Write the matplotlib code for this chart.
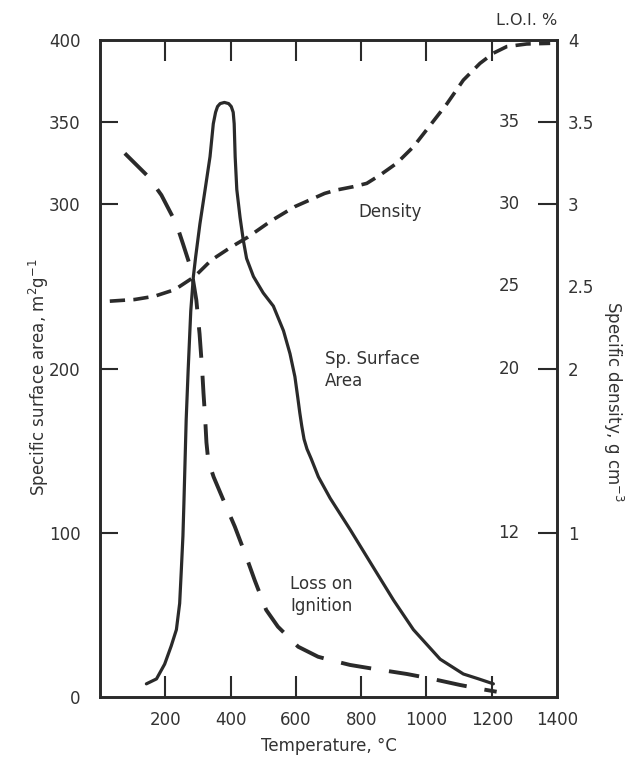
import numpy as np
import matplotlib
matplotlib.use("Agg")
import matplotlib.pyplot as plt
import matplotlib.transforms as mtransforms

plt.rcParams["font.family"] = ["DejaVu Sans"]
plt.rcParams["lines.scale_dashes"] = False

INK = "#2a2a2a"
TXT = "#333333"
FS = 12

# Specific surface area (m2/g) vs temperature (C)
ssa_t = [142, 173, 198, 218, 234, 244, 249, 254, 257, 264, 270, 278, 286, 293, 306,
         322, 337, 347, 354, 360, 368, 381, 394, 402, 408, 411, 414, 419, 429, 439,
         449, 470, 500, 531, 562, 582, 597, 606, 612, 618, 625, 634, 647, 669, 705,
         766, 837, 899, 960, 1042, 1113, 1160, 1205]
ssa_v = [8, 11, 20, 31, 41, 57, 77, 98, 118, 169, 199, 235, 256, 268, 288,
         309, 329, 349, 356, 359.5, 361.3, 362, 361.3, 359.5, 356, 349, 329, 309, 292,
         278, 267, 256, 246, 238, 223, 209, 195, 182, 173, 165, 157, 151, 145, 134, 121,
         102, 79, 59, 41, 23, 14, 11, 8]

# Specific density (g/cm3) vs temperature
dens_t = [30, 106, 167, 229, 290, 341, 402, 453, 525, 596, 688, 725, 776, 817, 858,
          909, 960, 1011, 1062, 1113, 1164, 1205, 1246, 1307, 1379]
dens_v = [2.41, 2.42, 2.44, 2.48, 2.56, 2.66, 2.74, 2.80, 2.90, 2.985, 3.066, 3.087,
          3.107, 3.127, 3.178, 3.25, 3.35, 3.48, 3.61, 3.756, 3.858, 3.92, 3.96,
          3.976, 3.98]

# Loss on ignition, in positions of the right-hand scale
loi_t = [76, 147, 188, 234, 254, 280, 295, 305, 313, 317, 322, 326, 330, 338, 348,
         382, 413, 448, 474, 509, 545, 607, 668, 705, 766, 827, 940, 1011, 1103, 1174,
         1215]
loi_v = [3.31, 3.17, 3.056, 2.88, 2.76, 2.60, 2.417, 2.21, 1.99, 1.85, 1.70, 1.55,
         1.47, 1.40, 1.34, 1.18, 1.037, 0.854, 0.71, 0.53, 0.428, 0.306, 0.245, 0.225,
         0.195, 0.175, 0.14, 0.113, 0.073, 0.046, 0.032]

x_ticks = [200, 400, 600, 800, 1000, 1200, 1400]
left_ticks = [0, 100, 200, 300, 350, 400]
dens_ticks = [1, 2, 2.5, 3, 3.5, 4]
dens_labels = ["1", "2", "2.5", "3", "3.5", "4"]
loi_labels = ["12", "20", "25", "30", "35"]
loi_pos = [1, 2, 2.5, 3, 3.5]

fig = plt.figure(figsize=(6.29, 7.58), dpi=100)
ax = fig.add_axes([0.159, 0.0805, 0.7266, 0.8667])
ax2 = ax.twinx()

ax.plot(ssa_t, ssa_v, color=INK, lw=2.3, solid_capstyle="round",
        solid_joinstyle="round")
ax2.plot(dens_t, dens_v, color=INK, lw=2.6, dashes=(11, 6))
ax2.plot(loi_t, loi_v, color=INK, lw=2.8, dashes=(22, 13))

ax.set_xlim(0, 1400)
ax.set_ylim(0, 400)
ax2.set_ylim(0, 4)

for a in (ax, ax2):
    for s in a.spines.values():
        s.set_linewidth(1.9)
        s.set_color(INK)

ax.set_xticks(x_ticks)
ax.set_xticklabels([str(v) for v in x_ticks])
ax.set_yticks(left_ticks)
ax.set_yticklabels([str(v) for v in left_ticks])
ax.tick_params(axis="x", direction="in", length=15, width=1.5, color=INK,
               top=True, labelsize=FS, labelcolor=TXT, pad=10)
ax.tick_params(axis="y", direction="in", length=13, width=1.5, color=INK,
               labelsize=FS, labelcolor=TXT, pad=14)
# no marks at the box corners
for t in ax.xaxis.get_major_ticks()[-1:]:
    t.tick1line.set_visible(False)
    t.tick2line.set_visible(False)
yt = ax.yaxis.get_major_ticks()
for i in (0, 5):
    yt[i].tick1line.set_visible(False)

ax2.set_yticks(dens_ticks)
ax2.set_yticklabels(dens_labels)
ax2.tick_params(axis="y", direction="in", length=14, width=1.5, color=INK,
                labelsize=FS, labelcolor=TXT, pad=8)
dt = ax2.yaxis.get_major_ticks()
for i in (2, 5):
    dt[i].tick2line.set_visible(False)

trans = mtransforms.blended_transform_factory(ax2.transAxes, ax2.transData)
for lab, p in zip(loi_labels, loi_pos):
    ax2.text(0.918, p, lab, transform=trans, ha="right", va="center",
             fontsize=FS, color=TXT)

ax.text(1.0, 1.03, "L.O.I. %", transform=ax.transAxes, ha="right", va="center",
        fontsize=11.5, color=TXT)

ax.set_xlabel("Temperature, °C", fontsize=FS, color=TXT, labelpad=6)
ax.set_ylabel("Specific surface area, m$^2$g$^{-1}$", fontsize=FS, color=TXT)
ax.yaxis.set_label_coords(-0.108, 0.487)
ax2.set_ylabel("Specific density, g cm$^{-3}$", fontsize=FS, color=TXT,
               rotation=-90)
ax2.yaxis.set_label_coords(1.15, 0.449)

ax.text(790, 295, "Density", fontsize=FS, color=TXT, va="center")
ax.text(690, 199, "Sp. Surface\nArea", fontsize=FS, color=TXT,
        va="center", ha="left", linespacing=1.25)
ax.text(582, 62, "Loss on\nIgnition", fontsize=FS, color=TXT,
        va="center", ha="left", linespacing=1.25)

fig.savefig("out.png", dpi=100)
